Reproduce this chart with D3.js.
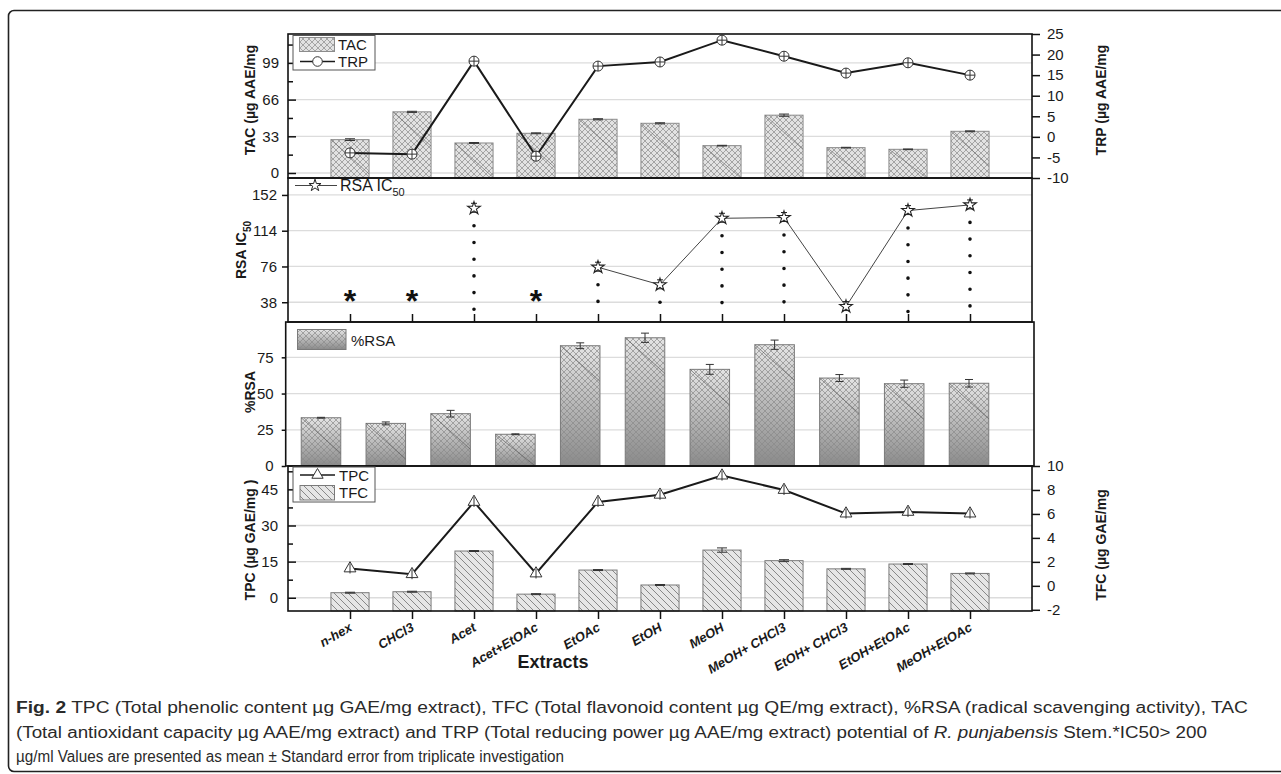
<!DOCTYPE html>
<html><head><meta charset="utf-8">
<script src="https://cdn.jsdelivr.net/npm/d3@7"></script>
<style>body{margin:0;background:#fff} svg{display:block;font-family:"Liberation Sans",Arial,sans-serif}</style>
</head><body>
<svg id="chart" width="1281" height="774"></svg>
<script>
// ---------- data ----------
const categories = ["n-hex","CHCl3","Acet","Acet+EtOAc","EtOAc","EtOH","MeOH","MeOH+ CHCl3","EtOH+ CHCl3","EtOH+EtOAc","MeOH+EtOAc"];
const tacValues = [30, 55, 27, 35.7, 48.3, 44.7, 24.6, 52, 22.8, 21.3, 37.5];
const tacErrors = [0.8, 0.5, 0.4, 0.4, 0.5, 0.5, 0.3, 1.0, 0.3, 0.3, 0.4];
const trpValues = [-3.9, -4.2, 18.4, -4.7, 17.2, 18.2, 23.5, 19.6, 15.5, 18.0, 15.0];
const rsaIC50Values = [null, null, 137.8, null, 75.2, 56.5, 127.2, 128, 33.4, 135.4, 141.4];
const rsaPercentValues = [33.3, 29.4, 36.1, 21.9, 83.0, 88.5, 66.7, 83.7, 60.7, 56.8, 57.1];
const rsaPercentErrors = [0.3, 1.0, 2.3, 0.3, 2.0, 3.2, 3.4, 3.2, 2.4, 2.5, 2.6];
const tfcValues = [2.1, 2.5, 19.4, 1.5, 11.5, 5.3, 19.8, 15.4, 12.0, 14.0, 10.1];
const tfcErrors = [0.2, 0.2, 0.2, 0.2, 0.2, 0.2, 0.9, 0.4, 0.2, 0.2, 0.2];
const tpcValues = [1.45, 0.97, 7.0, 1.03, 7.0, 7.6, 9.2, 8.0, 6.03, 6.17, 6.03];

const tacTicks = [0, 33, 66, 99];
const tacMinor = [16.5, 49.5, 82.5, 115.5];
const trpTicks = [-10, -5, 0, 5, 10, 15, 20, 25];
const rsaTicks = [38, 76, 114, 152];
const pctTicks = [0, 25, 50, 75];
const tfcBarTicks = [0, 15, 30, 45];
const tfcBarMinor = [7.5, 22.5, 37.5, 52.5];
const tpcLineTicks = [-2, 0, 2, 4, 6, 8, 10];

const captionLines = [
  [{t:"Fig. 2", w:"bold"}, {t:" TPC (Total phenolic content µg GAE/mg extract), TFC (Total flavonoid content µg QE/mg extract), %RSA (radical scavenging activity), TAC"}],
  [{t:"(Total antioxidant capacity µg AAE/mg extract) and TRP (Total reducing power µg AAE/mg extract) potential of "}, {t:"R. punjabensis", s:"italic"}, {t:" Stem.*IC50> 200"}],
  [{t:"µg/ml Values are presented as mean ± Standard error from triplicate investigation"}]
];

// ---------- layout ----------
const svg = d3.select("#chart");
const L = 288, R = 1032;
const T1 = 34, B1 = 178, B2 = 322, B3 = 466, B4 = 611;
const L3 = 285.7, R3 = 1034;
const ink = "#111";
const plain = d => String(d);

const defs = svg.append("defs");
const cross = defs.append("pattern").attr("id","cross").attr("patternUnits","userSpaceOnUse").attr("width",6).attr("height",6);
cross.append("path").attr("d","M0,0L6,6M6,0L0,6").attr("stroke","#8a8a8a").attr("stroke-width",0.7);
const hatch = defs.append("pattern").attr("id","hatch").attr("patternUnits","userSpaceOnUse").attr("width",7).attr("height",7);
hatch.append("path").attr("d","M0,0L7,7M-1,6L1,8M6,-1L8,1").attr("stroke","#707070").attr("stroke-width",0.8);
const grad = defs.append("linearGradient").attr("id","pctGrad").attr("x1",0).attr("y1",0).attr("x2",0).attr("y2",1);
grad.append("stop").attr("offset","0%").attr("stop-color","#e4e4e4");
grad.append("stop").attr("offset","100%").attr("stop-color","#8a8a8a");

// outer frame
svg.append("path").attr("d","M1281,10.5H14A5.5,5.5 0 0 0 8.5,16V766A5.5,5.5 0 0 0 14,771.5H1281")
  .attr("fill","none").attr("stroke","#222").attr("stroke-width",1.6);

const x = d3.scalePoint().domain(categories).range([L, R]).padding(1);
const x3 = d3.scalePoint().domain(categories).range([321, 969]);
const bw = x.step() * 0.615;
const bw3 = x3.step() * 0.61;

function grid(g, scale, ticks, x0, x1) {
  g.selectAll(null).data(ticks).enter().append("line")
    .attr("x1", x0).attr("x2", x1).attr("y1", d => scale(d)).attr("y2", d => scale(d))
    .attr("stroke", "#dcdcdc").attr("stroke-width", 1.3);
}
function styleAxis(g, size) {
  g.select(".domain").remove();
  g.selectAll(".tick line").attr("stroke", ink).attr("stroke-width", 1.5);
  g.selectAll(".tick text").attr("fill", "#1a1a1a").style("font-size", (size||14) + "px")
    .style("font-family", '"Liberation Sans",Arial,sans-serif');
}
function frame(x0, y0, x1, y1) {
  svg.append("rect").attr("x", x0).attr("y", y0).attr("width", x1 - x0).attr("height", y1 - y0)
    .attr("fill", "none").attr("stroke", ink).attr("stroke-width", 1.6);
}
function errBars(g, xs, ys, vals, errs, cap) {
  vals.forEach((v, i) => {
    const c = categories[i], cx = xs(c);
    g.append("line").attr("x1", cx).attr("x2", cx).attr("y1", ys(v - errs[i])).attr("y2", ys(v + errs[i])).attr("stroke", "#333").attr("stroke-width", 1);
    [v - errs[i], v + errs[i]].forEach(e => g.append("line").attr("x1", cx - cap/2).attr("x2", cx + cap/2)
      .attr("y1", ys(e)).attr("y2", ys(e)).attr("stroke", "#333").attr("stroke-width", 1));
  });
}

// ================= Panel 1: TAC / TRP =================
const yTAC = d3.scaleLinear().domain([-4.5, 125]).range([B1, T1]);
const yTRP = d3.scaleLinear().domain([-10, 25]).range([B1, T1]);
const p1 = svg.append("g");
grid(p1, yTAC, tacTicks, L, R);
const tacData = categories.map((c, i) => ({c, v: tacValues[i]}));
p1.selectAll(".tacb").data(tacData).enter().append("rect")
  .attr("x", d => x(d.c) - bw/2).attr("y", d => yTAC(d.v)).attr("width", bw).attr("height", d => B1 - yTAC(d.v))
  .attr("fill", "#e2e2e2");
p1.selectAll(".tacp").data(tacData).enter().append("rect")
  .attr("x", d => x(d.c) - bw/2).attr("y", d => yTAC(d.v)).attr("width", bw).attr("height", d => B1 - yTAC(d.v))
  .attr("fill", "url(#cross)").attr("stroke", "#8c8c8c").attr("stroke-width", 1);
p1.selectAll(".tacd").data(tacData).enter().append("line")
  .attr("x1", d => x(d.c) - bw/2).attr("y1", d => yTAC(d.v))
  .attr("x2", d => x(d.c) + bw/2).attr("y2", d => Math.min(B1, yTAC(d.v) + bw * 0.9))
  .attr("stroke", "#666").attr("stroke-width", 0.6);
errBars(p1, x, yTAC, tacValues, tacErrors, 10);
const trpData = categories.map((c, i) => ({c, v: trpValues[i]}));
p1.append("path").datum(trpData).attr("fill", "none").attr("stroke", "#1a1a1a").attr("stroke-width", 2)
  .attr("d", d3.line().x(d => x(d.c)).y(d => yTRP(d.v)));
const trpM = p1.selectAll(".trpm").data(trpData).enter().append("g").attr("transform", d => `translate(${x(d.c)},${yTRP(d.v)})`);
trpM.append("circle").attr("r", 5).attr("fill", "#fff").attr("stroke", "#333").attr("stroke-width", 1);
trpM.append("path").attr("d", "M-5,0H5M0,-5V5").attr("stroke", "#333").attr("stroke-width", 1);

const a1 = svg.append("g").attr("transform", `translate(${L},0)`)
  .call(d3.axisLeft(yTAC).tickValues(tacTicks).tickSizeInner(-8).tickSizeOuter(0).tickPadding(9).tickFormat(plain));
styleAxis(a1, 15);
const a1m = svg.append("g").attr("transform", `translate(${L},0)`)
  .call(d3.axisLeft(yTAC).tickValues(tacMinor).tickSizeInner(-5).tickSizeOuter(0).tickFormat(""));
styleAxis(a1m);
const a1r = svg.append("g").attr("transform", `translate(${R},0)`)
  .call(d3.axisRight(yTRP).tickValues(trpTicks).tickSizeInner(8).tickSizeOuter(0).tickPadding(7).tickFormat(plain));
styleAxis(a1r, 15);
frame(L, T1, R, B1);

// legend 1
const lg1 = svg.append("g");
lg1.append("rect").attr("x", 293).attr("y", 35.5).attr("width", 82).attr("height", 34.5).attr("fill", "#fff").attr("stroke", "#555").attr("stroke-width", 1);
lg1.append("rect").attr("x", 299.5).attr("y", 37.5).attr("width", 35).attr("height", 14).attr("fill", "#e2e2e2");
lg1.append("rect").attr("x", 299.5).attr("y", 37.5).attr("width", 35).attr("height", 14).attr("fill", "url(#cross)").attr("stroke", "#8c8c8c");
lg1.append("text").attr("x", 338).attr("y", 49.5).text("TAC").style("font-size", "15px").attr("fill", "#1a1a1a");
lg1.append("line").attr("x1", 300).attr("x2", 335).attr("y1", 61.5).attr("y2", 61.5).attr("stroke", "#1a1a1a").attr("stroke-width", 1.6);
lg1.append("circle").attr("cx", 317.5).attr("cy", 61.5).attr("r", 4.8).attr("fill", "#fff").attr("stroke", "#333");
lg1.append("text").attr("x", 338).attr("y", 67).text("TRP").style("font-size", "15px").attr("fill", "#1a1a1a");

// ================= Panel 2: RSA IC50 =================
const yIC = d3.scaleLinear().domain([17, 170]).range([B2, B1]);
const p2 = svg.append("g");
grid(p2, yIC, rsaTicks, L, R);
const icData = categories.map((c, i) => ({c, v: rsaIC50Values[i]}));
p2.selectAll(".dots").data(icData.filter(d => d.v !== null && yIC(d.v) + 17.5 < B2 - 6)).enter().append("line")
  .attr("x1", d => x(d.c)).attr("x2", d => x(d.c)).attr("y1", d => yIC(d.v) + 17.5).attr("y2", B2 - 4)
  .attr("stroke", "#111").attr("stroke-width", 3.6).attr("stroke-linecap", "round").attr("stroke-dasharray", "0 16.7");
p2.append("path").datum(icData).attr("fill", "none").attr("stroke", "#444").attr("stroke-width", 1)
  .attr("d", d3.line().defined(d => d.v !== null).x(d => x(d.c)).y(d => yIC(d.v)));
const starM = p2.selectAll(".st").data(icData.filter(d => d.v !== null)).enter().append("g")
  .attr("transform", d => `translate(${x(d.c)},${yIC(d.v)})`);
starM.append("path").attr("d", d3.symbol(d3.symbolStar, 50)()).attr("fill", "#fff").attr("stroke", "#222").attr("stroke-width", 1.1);
starM.append("path").attr("d", "M-3.5,4H3.5M-3,-5H3").attr("stroke", "#222").attr("stroke-width", 1);
p2.selectAll(".ast").data(icData.filter(d => d.v === null)).enter().append("text")
  .attr("x", d => x(d.c)).attr("y", 312).attr("text-anchor", "middle").text("*")
  .style("font-size", "32px").style("font-weight", "bold").attr("fill", "#111");

const a2 = svg.append("g").attr("transform", `translate(${L},0)`)
  .call(d3.axisLeft(yIC).tickValues(rsaTicks).tickSizeInner(6).tickSizeOuter(0).tickPadding(5).tickFormat(plain));
styleAxis(a2, 15);
const a2x = svg.append("g").attr("transform", `translate(0,${B2})`)
  .call(d3.axisBottom(x).tickSizeInner(-8).tickSizeOuter(0).tickFormat(""));
styleAxis(a2x);
frame(L, B1, R, B2);
const lg2 = svg.append("g");
lg2.append("line").attr("x1", 295).attr("x2", 337).attr("y1", 185.5).attr("y2", 185.5).attr("stroke", "#444").attr("stroke-width", 1);
lg2.append("path").attr("transform", "translate(315,185.5)").attr("d", d3.symbol(d3.symbolStar, 45)()).attr("fill", "#fff").attr("stroke", "#222");
const lt2 = lg2.append("text").attr("x", 340).attr("y", 191).style("font-size", "16px").attr("fill", "#1a1a1a");
lt2.append("tspan").text("RSA IC");
lt2.append("tspan").attr("dy", 5).style("font-size", "11px").text("50");

// ================= Panel 3: %RSA =================
const yPct = d3.scaleLinear().domain([0, 100]).range([B3, B2 - 0.9]);
const p3 = svg.append("g");
grid(p3, yPct, pctTicks.slice(1), L3, R3);
const pctData = categories.map((c, i) => ({c, v: rsaPercentValues[i]}));
p3.selectAll(".pb").data(pctData).enter().append("rect")
  .attr("x", d => x3(d.c) - bw3/2).attr("y", d => yPct(d.v)).attr("width", bw3).attr("height", d => B3 - yPct(d.v))
  .attr("fill", "url(#pctGrad)");
p3.selectAll(".pp").data(pctData).enter().append("rect")
  .attr("x", d => x3(d.c) - bw3/2).attr("y", d => yPct(d.v)).attr("width", bw3).attr("height", d => B3 - yPct(d.v))
  .attr("fill", "url(#cross)").attr("stroke", "#7a7a7a").attr("stroke-width", 1);
p3.selectAll(".pd").data(pctData).enter().append("line")
  .attr("x1", d => x3(d.c) - bw3/2).attr("y1", d => yPct(d.v))
  .attr("x2", d => x3(d.c) + bw3/2).attr("y2", d => Math.min(B3, yPct(d.v) + bw3 * 0.9))
  .attr("stroke", "#555").attr("stroke-width", 0.6);
errBars(p3, x3, yPct, rsaPercentValues, rsaPercentErrors, 8);
const a3 = svg.append("g").attr("transform", `translate(${L3},0)`)
  .call(d3.axisLeft(yPct).tickValues(pctTicks).tickSizeInner(4).tickSizeOuter(0).tickPadding(8).tickFormat(plain));
styleAxis(a3, 15);
frame(L3, B2, R3, B3);
const lg3 = svg.append("g");
lg3.append("rect").attr("x", 297.5).attr("y", 329.5).attr("width", 48.5).attr("height", 20).attr("fill", "url(#pctGrad)");
lg3.append("rect").attr("x", 297.5).attr("y", 329.5).attr("width", 48.5).attr("height", 20).attr("fill", "url(#cross)").attr("stroke", "#7a7a7a");
lg3.append("text").attr("x", 351).attr("y", 346).text("%RSA").style("font-size", "15px").attr("fill", "#1a1a1a");

// ================= Panel 4: TPC / TFC =================
const yBar4 = d3.scaleLinear().domain([-5.5, 54.7]).range([B4, B3]);
const yLine4 = d3.scaleLinear().domain([-2.1, 10]).range([B4, B3]);
const p4 = svg.append("g");
grid(p4, yBar4, tfcBarTicks, L, R);
const tfcData = categories.map((c, i) => ({c, v: tfcValues[i]}));
p4.selectAll(".fb").data(tfcData).enter().append("rect")
  .attr("x", d => x(d.c) - bw/2).attr("y", d => yBar4(d.v)).attr("width", bw).attr("height", d => B4 - yBar4(d.v))
  .attr("fill", "#e6e6e6");
p4.selectAll(".fp").data(tfcData).enter().append("rect")
  .attr("x", d => x(d.c) - bw/2).attr("y", d => yBar4(d.v)).attr("width", bw).attr("height", d => B4 - yBar4(d.v))
  .attr("fill", "url(#hatch)").attr("stroke", "#7a7a7a").attr("stroke-width", 1);
errBars(p4, x, yBar4, tfcValues, tfcErrors, 10);
const tpcData = categories.map((c, i) => ({c, v: tpcValues[i]}));
p4.append("path").datum(tpcData).attr("fill", "none").attr("stroke", "#1a1a1a").attr("stroke-width", 2)
  .attr("d", d3.line().x(d => x(d.c)).y(d => yLine4(d.v)));
const tpcM = p4.selectAll(".tm").data(tpcData).enter().append("g").attr("transform", d => `translate(${x(d.c)},${yLine4(d.v)})`);
tpcM.append("path").attr("d", d3.symbol(d3.symbolTriangle, 60)()).attr("fill", "#fff").attr("stroke", "#333").attr("stroke-width", 1);
tpcM.append("path").attr("d", "M0,-5V5").attr("stroke", "#333").attr("stroke-width", 1);

const a4 = svg.append("g").attr("transform", `translate(${L},0)`)
  .call(d3.axisLeft(yBar4).tickValues(tfcBarTicks).tickSizeInner(-8).tickSizeOuter(0).tickPadding(10).tickFormat(plain));
styleAxis(a4, 15);
const a4m = svg.append("g").attr("transform", `translate(${L},0)`)
  .call(d3.axisLeft(yBar4).tickValues(tfcBarMinor).tickSizeInner(-5).tickSizeOuter(0).tickFormat(""));
styleAxis(a4m);
const a4r = svg.append("g").attr("transform", `translate(${R},0)`)
  .call(d3.axisRight(yLine4).tickValues(tpcLineTicks).tickSizeInner(8).tickSizeOuter(0).tickPadding(7).tickFormat(plain));
styleAxis(a4r, 15);
const a4x = svg.append("g").attr("transform", `translate(0,${B4})`)
  .call(d3.axisBottom(x).tickSizeInner(8).tickSizeOuter(0).tickFormat(""));
styleAxis(a4x);
frame(L, B3, R, B4);
const lg4 = svg.append("g");
lg4.append("rect").attr("x", 293).attr("y", 467).attr("width", 82).attr("height", 35).attr("fill", "#fff").attr("stroke", "#555").attr("stroke-width", 1);
lg4.append("line").attr("x1", 300).attr("x2", 335).attr("y1", 475).attr("y2", 475).attr("stroke", "#1a1a1a").attr("stroke-width", 1.6);
lg4.append("path").attr("transform", "translate(317.5,475)").attr("d", d3.symbol(d3.symbolTriangle, 55)()).attr("fill", "#fff").attr("stroke", "#333");
lg4.append("text").attr("x", 339).attr("y", 480.5).text("TPC").style("font-size", "15px").attr("fill", "#1a1a1a");
lg4.append("rect").attr("x", 300).attr("y", 485.5).attr("width", 34.5).attr("height", 14.5).attr("fill", "#e6e6e6");
lg4.append("rect").attr("x", 300).attr("y", 485.5).attr("width", 34.5).attr("height", 14.5).attr("fill", "url(#hatch)").attr("stroke", "#7a7a7a");
lg4.append("text").attr("x", 339).attr("y", 498).text("TFC").style("font-size", "15px").attr("fill", "#1a1a1a");

// x tick labels
svg.selectAll(".xl").data(categories).enter().append("text")
  .attr("transform", d => `translate(${x(d) + 3},${630}) rotate(-30)`)
  .attr("text-anchor", "end").text(d => d)
  .style("font-size", "13px").style("font-weight", "bold").style("font-style", "italic").attr("fill", "#1a1a1a");
svg.append("text").attr("x", 553).attr("y", 668).attr("text-anchor", "middle").text("Extracts")
  .style("font-size", "18px").style("font-weight", "bold").attr("fill", "#1a1a1a");

// axis titles
function vTitle(xp, yp, parts) {
  const t = svg.append("text").attr("transform", `translate(${xp},${yp}) rotate(-90)`).attr("text-anchor", "middle")
    .style("font-size", "14px").style("font-weight", "bold").attr("fill", "#1a1a1a");
  parts.forEach(p => {
    const s = t.append("tspan").text(p.t);
    if (p.sub) s.attr("dy", 5).style("font-size", "10px");
  });
}
vTitle(255, 100, [{t:"TAC (µg AAE/mg"}]);
vTitle(246, 250, [{t:"RSA IC"}, {t:"50", sub:true}]);
vTitle(255, 392, [{t:"%RSA"}]);
vTitle(255, 540, [{t:"TPC (µg GAE/mg )"}]);
vTitle(1106, 100, [{t:"TRP (µg AAE/mg"}]);
vTitle(1106, 545, [{t:"TFC (µg GAE/mg"}]);

// caption
const capY = [713, 738, 762];
const capW = [1232, 1191, 548];
captionLines.forEach((line, i) => {
  const t = svg.append("text").attr("x", 16).attr("y", capY[i])
    .attr("textLength", capW[i]).attr("lengthAdjust", "spacingAndGlyphs")
    .style("font-family", '"Liberation Sans",Arial,sans-serif')
    .style("font-size", "16px").attr("fill", "#2a2a2a");
  line.forEach(p => {
    const s = t.append("tspan").text(p.t);
    if (p.w) s.style("font-weight", p.w);
    if (p.s) s.style("font-style", p.s);
  });
});
</script>
</body></html>
